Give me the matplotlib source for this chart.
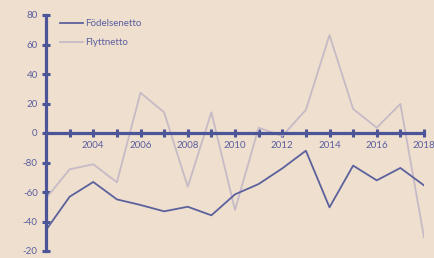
import matplotlib
matplotlib.use("Agg")
import matplotlib.pyplot as plt

years = list(range(2002, 2019))
fodelsenetto = [-65.8, -43.2, -33.2, -45.0, -48.8, -53.1, -50.0, -55.8, -41.6,
                -34.6, -24.0, -12.0, -50.4, -22.1, -32.1, -23.7, -35.5]
flyttnetto = [-44.3, -24.6, -21.2, -33.4, 27.3, 14.0, -36.4, 14.0, -52.2,
              3.6, -2.0, 15.6, 66.4, 16.3, 3.6, 19.7, -70.7]
ytick_values = [80, 60, 40, 20, 0, -20, -40, -60, -80]
ytick_labels = ['80', '60', '40', '20', '0', '-80', '-60', '-40', '-20']
xtick_years = list(range(2003, 2019))
xlabel_years = list(range(2004, 2019, 2))

bg = '#efdfcf'
axis_c = '#4b5597'
dark = '#5b619c'
light = '#c6bac6'
text_c = '#5a5f9e'

plt.rcParams['font.family'] = ['Lato', 'DejaVu Sans']

fig = plt.figure(figsize=(4.34, 2.58), dpi=100, facecolor=bg)
ax = fig.add_axes([46/434, 7/258, (424-46)/434, (251-15)/258])
ax.set_facecolor(bg)

ax.plot(years, flyttnetto, color=light, lw=1.3, label='Flyttnetto', zorder=2)
ax.plot(years, fodelsenetto, color=dark, lw=1.3, label='Födelsenetto', zorder=3)

ax.set_xlim(2002, 2018)
ax.set_ylim(-80, 80)

for s in ['top', 'right']:
    ax.spines[s].set_visible(False)
ax.spines['left'].set_position(('data', 2002))
ax.spines['bottom'].set_position(('data', 0))
for s in ['left', 'bottom']:
    ax.spines[s].set_color(axis_c)
    ax.spines[s].set_linewidth(2.3)
    ax.spines[s].set_zorder(4)

ax.set_yticks(ytick_values)
ax.set_yticklabels(ytick_labels)
ax.set_xticks(xtick_years)
ax.set_xticklabels([str(y) if y in xlabel_years else '' for y in xtick_years])

ax.tick_params(axis='both', direction='inout', length=6, width=2.2,
               color=axis_c, labelcolor=text_c, labelsize=7)
ax.tick_params(axis='x', pad=3)
ax.tick_params(axis='y', pad=3)
for t in ax.xaxis.get_major_ticks() + ax.yaxis.get_major_ticks():
    t.tick1line.set_clip_on(False)
    t.tick2line.set_clip_on(False)

h, l = ax.get_legend_handles_labels()
leg = ax.legend([h[1], h[0]], [l[1], l[0]], loc='upper left',
                bbox_to_anchor=(0.015, 1.02), frameon=False, fontsize=7,
                labelcolor=text_c, handlelength=2.3, handletextpad=0.2,
                labelspacing=1.05)

fig.savefig('out.png', dpi=100, facecolor=bg)
